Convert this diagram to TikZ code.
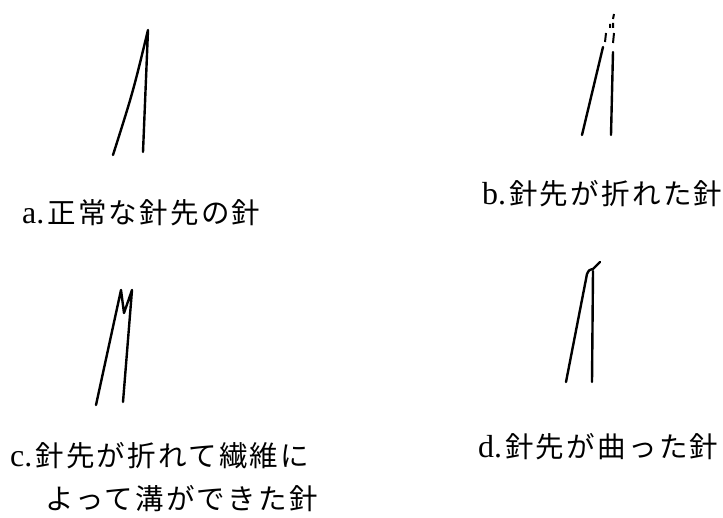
\documentclass[tikz,border=0pt]{standalone}
\usepackage{fontspec}
\newfontfamily\jp[LetterSpace=8]{Noto Sans CJK JP}
\newfontfamily\lat[Scale=1.12]{Liberation Serif}
\begin{document}
\begin{tikzpicture}[x=1pt,y=-1pt,
  needle/.style={line width=2.4pt, line cap=round, line join=round},
  crack/.style={line width=2pt, line cap=butt},
  lbl/.style={anchor=west, inner sep=0pt, font=\fontsize{28.5}{32}\selectfont}]
\useasboundingbox[fill=white] (0,0) rectangle (723,518);

% a. normal needle point
\coordinate (aT) at (148,30);
\coordinate (aL) at (113,155);
\coordinate (aR) at (143,152);
\draw[needle] (aL) .. controls (133,92) .. (aT) -- (aR);

% b. broken needle point, with the lost tip dashed
\coordinate (bL1) at (582,135);
\coordinate (bL2) at (603,47);
\coordinate (bR1) at (611,135);
\coordinate (bR2) at (613,52);
\draw[needle] (bL1) -- (bL2);
\draw[needle] (bR1) -- (bR2);
\draw[crack] (605,42) -- (606,33) (610,28) -- (610,24)
             (613,43) -- (614,33) (613,28) -- (613,23) (613,19) -- (614,14);

% c. broken point grooved by the fibre
\coordinate (cL) at (96,405);
\coordinate (cA) at (121,290);
\coordinate (cV) at (124,313);
\coordinate (cB) at (132,290);
\coordinate (cR) at (123,402);
\draw[needle] (cL) -- (cA) -- (cV) -- (cB) -- (cR);

% d. bent needle point
\coordinate (dL) at (566,382);
\coordinate (dLt) at (587,274);
\coordinate (dJ) at (593,269);
\coordinate (dH) at (600,262);
\coordinate (dR) at (592,382);
\coordinate (dRt) at (593,271);
\draw[needle] (dL) -- (dLt) .. controls (589,270) .. (dJ) -- (dH);
\draw[needle] (dR) -- (dRt);

% captions
\node[lbl] (la) at (22,213) {\lat a.\hspace{3pt}\jp 正常な針先の針};
\node[lbl] (lb) at (482,194) {\lat b.\hspace{3pt}\jp 針先が折れた針};
\node[lbl] (lc1) at (10,456) {\lat c.\hspace{3pt}\jp 針先が折れて繊維に};
\node[lbl] (lc2) at (45,499) {\jp よって溝ができた針};
\node[lbl] (ld) at (478,447) {\lat d.\hspace{3pt}\jp 針先が曲った針};
\end{tikzpicture}
\end{document}
